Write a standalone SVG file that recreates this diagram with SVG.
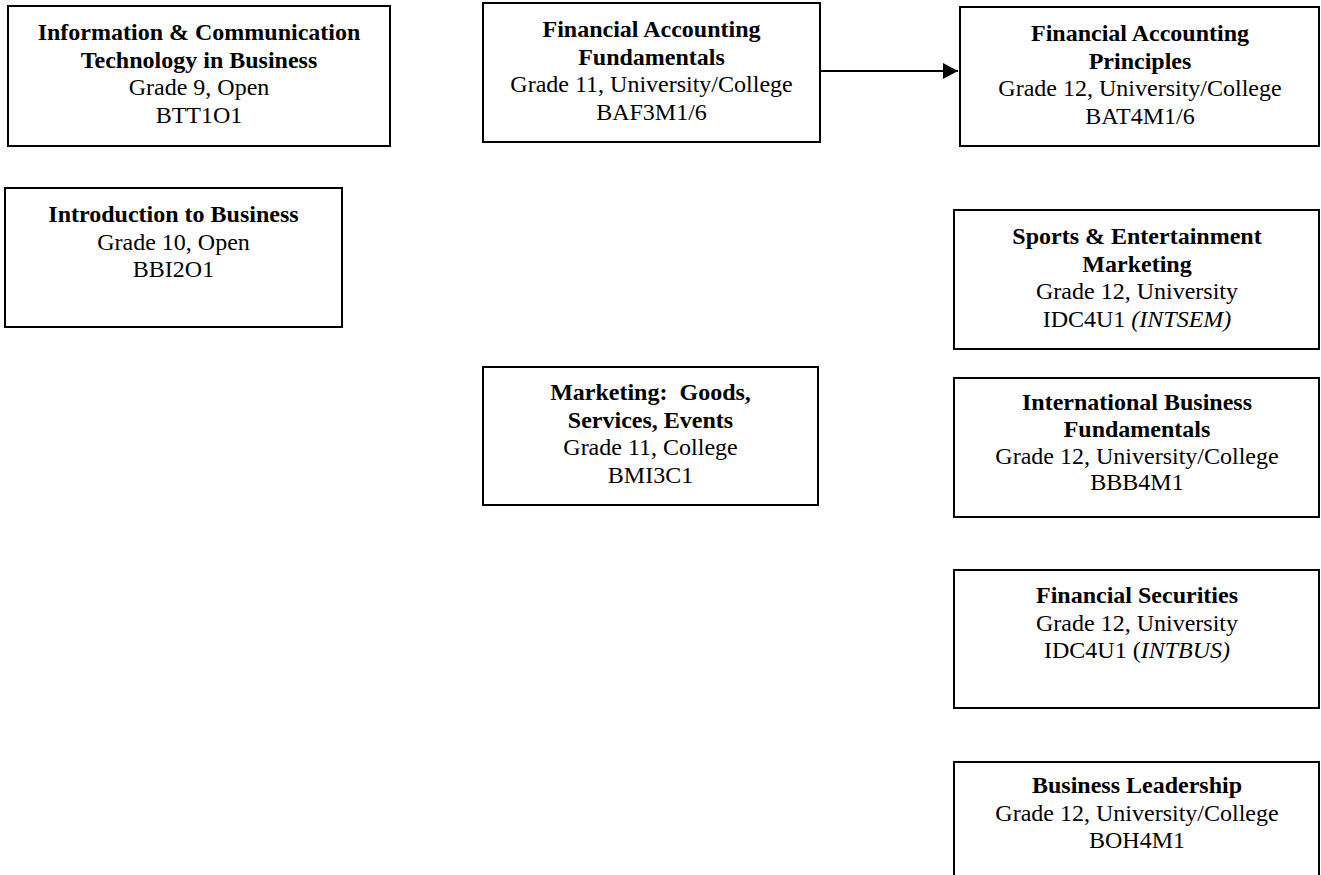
<svg xmlns="http://www.w3.org/2000/svg" width="1321" height="875" viewBox="0 0 1321 875">
<style>
.box{fill:#fff;stroke:#000;stroke-width:2}
text{font-family:"Liberation Serif","Times New Roman",serif;font-size:24px;fill:#000;text-anchor:middle;white-space:pre}
.b{font-weight:bold}
.i{font-style:italic}
.conn{stroke:#000;stroke-width:2;fill:none}
</style>
<defs>
<marker id="arrow" markerWidth="16" markerHeight="16" refX="15" refY="8" orient="auto" markerUnits="userSpaceOnUse">
<path d="M0,0 L15,8 L0,16 Z" fill="#000"/>
</marker>
</defs>
<rect width="1321" height="875" fill="#fff"/>
<g id="connectors">
<line class="conn" x1="817" y1="71" x2="958" y2="71" marker-end="url(#arrow)"/>
</g>
<g id="btt1o1">
<rect class="box" x="8" y="6" width="382" height="140"/>
<text x="199" y="40" class="b">Information &amp; Communication</text>
<text x="199" y="67.5" class="b">Technology in Business</text>
<text x="199" y="95">Grade 9, Open</text>
<text x="199" y="122.5">BTT1O1</text>
</g>
<g id="baf3m1">
<rect class="box" x="483" y="3" width="337" height="139"/>
<text x="651.5" y="37" class="b">Financial Accounting</text>
<text x="651.5" y="64.5" class="b">Fundamentals</text>
<text x="651.5" y="92">Grade 11, University/College</text>
<text x="651.5" y="119.5">BAF3M1/6</text>
</g>
<g id="bat4m1">
<rect class="box" x="960" y="7" width="359" height="139"/>
<text x="1140" y="41" class="b">Financial Accounting</text>
<text x="1140" y="68.5" class="b">Principles</text>
<text x="1140" y="96">Grade 12, University/College</text>
<text x="1140" y="123.5">BAT4M1/6</text>
</g>
<g id="bbi2o1">
<rect class="box" x="5" y="188" width="337" height="139"/>
<text x="173.5" y="222" class="b">Introduction to Business</text>
<text x="173.5" y="249.5">Grade 10, Open</text>
<text x="173.5" y="277">BBI2O1</text>
</g>
<g id="idc4u1-intsem">
<rect class="box" x="954" y="210" width="365" height="139"/>
<text x="1137" y="244" class="b">Sports &amp; Entertainment</text>
<text x="1137" y="271.5" class="b">Marketing</text>
<text x="1137" y="299">Grade 12, University</text>
<text x="1137" y="326.5">IDC4U1 <tspan class="i">(INTSEM)</tspan></text>
</g>
<g id="bmi3c1">
<rect class="box" x="483" y="367" width="335" height="138"/>
<text x="650.5" y="400" class="b">Marketing:  Goods,</text>
<text x="650.5" y="427.5" class="b">Services, Events</text>
<text x="650.5" y="455">Grade 11, College</text>
<text x="650.5" y="482.5">BMI3C1</text>
</g>
<g id="bbb4m1">
<rect class="box" x="954" y="378" width="365" height="139"/>
<text x="1137" y="410" class="b">International Business</text>
<text x="1137" y="437" class="b">Fundamentals</text>
<text x="1137" y="463.5">Grade 12, University/College</text>
<text x="1137" y="490">BBB4M1</text>
</g>
<g id="idc4u1-intbus">
<rect class="box" x="954" y="570" width="365" height="138"/>
<text x="1137" y="603" class="b">Financial Securities</text>
<text x="1137" y="630.5">Grade 12, University</text>
<text x="1137" y="658">IDC4U1 (<tspan class="i">INTBUS)</tspan></text>
</g>
<g id="boh4m1">
<rect class="box" x="954" y="762" width="365" height="130"/>
<text x="1137" y="793" class="b">Business Leadership</text>
<text x="1137" y="820.5">Grade 12, University/College</text>
<text x="1137" y="848">BOH4M1</text>
</g>
</svg>
